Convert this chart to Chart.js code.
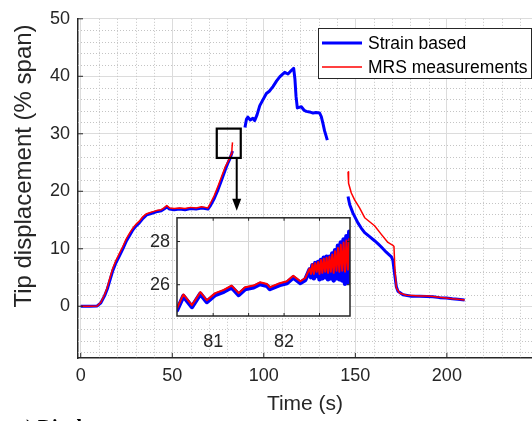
<!DOCTYPE html>
<html><head><meta charset="utf-8">
<script src="https://cdn.jsdelivr.net/npm/chart.js@4.4.1/dist/chart.umd.min.js"></script>
<style>
html,body{margin:0;padding:0;background:#fff;overflow:hidden;width:532px;height:421px;}
#wrap{position:relative;width:532px;height:421px;overflow:hidden;}
#main{position:absolute;left:0;top:0;width:532px;height:421px;}
#inset{position:absolute;left:100px;top:200px;width:260px;height:160px;}
#cap{position:absolute;left:16px;top:417px;font:bold 20px/20px "Liberation Serif",serif;color:#000;white-space:nowrap;}
</style></head><body>
<div id="wrap">
<canvas id="main" width="532" height="421"></canvas>
<canvas id="inset" width="260" height="160"></canvas>
<div id="cap">a) Displacement</div>
</div>
<script>
// ---- data ----
const seriesNames = ['Strain based', 'MRS measurements'];
const blueTime = [0,5,9,11,13,14.5,16,17.5,19,21,23,25,27,28.5,30,32,34,36,38,40,42,44,45.5,47,48.5,51,54,57,60,63,66,68,69.5,71,73,75,77,79,80.5,81.5,82.4,82.9,
  86,
  89.7,90.5,91.3,92.6,94.0,95.0,96.3,97.8,99.5,101.4,103,105,107,108.7,110,111.4,113.2,115,116.3,117.0,117.6,118.3,120.5,122,123.2,125,126.9,128.5,130.5,131.4,132.3,133.2,134.7,
  140,
  146,146.9,148.7,151.4,153.2,155.1,157.8,160.5,162.3,164.2,166.9,169.7,170.5,171.3,172.4,173.3,176,180.6,185.1,189,192.4,196,199.7,203,206,209.7];
const blueDisp = [0,0,0.05,0.6,1.8,3.0,4.6,6.2,7.4,8.7,10.0,11.4,12.5,13.3,13.9,14.5,15.3,15.9,16.1,16.3,16.5,16.6,16.9,17.3,16.9,16.8,16.9,16.8,17.0,16.9,17.1,17.0,16.9,17.6,18.8,20.3,22.0,23.8,25.0,25.7,26.5,27.0,
  null,
  31.1,32.5,32.9,32.4,32.7,32.3,33.3,34.9,35.9,37.0,37.4,38.2,39.2,39.9,40.3,40.7,40.4,41.0,41.4,39.5,36.5,34.5,34.7,34.1,33.9,33.8,33.6,33.7,33.6,33.0,31.8,30.5,28.9,
  null,
  19.1,17.7,16.2,14.5,13.6,12.8,12.1,11.4,10.9,10.3,9.4,8.6,8.0,6.0,3.4,2.6,2.0,1.75,1.75,1.7,1.65,1.5,1.45,1.3,1.2,1.1];
const redTime = [0,5,9,11,13,14.5,16,17.5,19,21,23,25,27,28.5,30,32,34,36,38,40,42,44,45.5,47,48.5,51,54,57,60,63,66,68,69.5,71,73,75,77,79,80.5,81.5,82.2,82.6,82.9,
  86,
  146,146.3,147.8,149.6,152.3,155.1,157.8,160.5,164.2,167.8,170.5,171.1,171.6,172.4,174.2,177.9,181,185.1,189,192.4,196,199.7,203,206,209.7];
const redDisp = [0,0,0.05,0.7,2.0,3.3,5.0,6.6,7.8,9.1,10.4,11.8,12.9,13.6,14.2,14.8,15.6,16.1,16.3,16.5,16.7,16.8,17.1,17.5,17.1,17.0,17.1,17.0,17.2,17.1,17.3,17.2,17.1,18.0,19.3,20.9,22.6,24.3,25.2,25.9,26.5,27.4,28.5,
  null,
  23.4,21.4,19.7,18.5,17.1,15.4,14.7,14.0,12.5,11.1,10.6,10.4,6.5,3.2,2.3,1.9,1.85,1.8,1.8,1.7,1.55,1.45,1.3,1.2,1.1];
const xTicks = [0,50,100,150,200];
const yTicks = [0,10,20,30,40,50];

// inset (zoom of 80.5 – 82.9 s)
const insetTime = [80.49,80.58,80.70,80.82,80.91,81.03,81.15,81.26,81.36,81.45,81.57,81.66,81.76,81.80,81.94,82.04,82.13,82.23,82.30,
  82.36,82.38,82.40,82.42,82.44,82.46,82.48,82.50,82.52,82.54,82.56,82.58,82.60,82.62,82.64,82.66,82.68,82.70,82.72,82.74,82.76,82.78,82.80,82.82,82.84,82.86,82.88,82.90,82.92];
const insetBlue = [24.82,25.47,24.97,25.58,25.20,25.53,25.68,25.88,25.53,25.80,25.88,26.03,25.95,25.80,25.99,26.08,26.33,26.08,26.23,
  26.70,26.35,26.90,26.30,27.00,26.40,27.05,26.25,27.15,26.30,27.25,26.35,27.30,26.25,27.30,26.30,27.45,26.20,27.60,26.30,27.80,26.25,27.95,26.20,28.10,26.05,28.25,26.10,28.45];
const insetRed = [24.90,25.55,25.05,25.66,25.28,25.61,25.76,25.96,25.61,25.88,25.96,26.11,26.03,25.88,26.07,26.16,26.41,26.16,26.31,
  26.75,26.50,26.95,26.50,27.00,26.60,27.05,26.50,27.15,26.55,27.20,26.60,27.25,26.55,27.30,26.60,27.40,26.55,27.55,26.65,27.70,26.60,27.85,26.65,27.95,26.60,28.05,26.70,28.15];
const insetXTicks = [81,81.5,82,82.5];
const insetXLabels = ['81','','82',''];
const insetYTicks = [26,28];

// zoom marker (data coordinates) and arrow
const zoomBoxT = [74.3, 87.4];
const zoomBoxD = [25.8, 30.9];
const arrowT = 85.2;
const arrowD = [25.8, 16.6];

// ---- drawing ----
Chart.defaults.font.family = "'Liberation Sans', Arial, sans-serif";
Chart.defaults.color = '#262626';
const pts = (t, v) => t.map((x, i) => ({x: x, y: v[i]}));
const AX = '#262626';

const minorGrid = {
  id: 'minorGrid',
  beforeDatasetsDraw(chart) {
    const {ctx, chartArea: a, scales: {x, y}} = chart;
    ctx.save();
    ctx.strokeStyle = '#c4c4c4';
    ctx.lineWidth = 1;
    ctx.setLineDash([1, 2]);
    for (let t = 10; t < x.max; t += 10) {
      if (t % 50 === 0) continue;
      const px = Math.round(x.getPixelForValue(t)) + 0.5;
      ctx.beginPath(); ctx.moveTo(px, a.top); ctx.lineTo(px, a.bottom); ctx.stroke();
    }
    for (let v = -8; v < y.max; v += 2) {
      if (v % 10 === 0) continue;
      const py = Math.round(y.getPixelForValue(v)) + 0.5;
      ctx.beginPath(); ctx.moveTo(a.left, py); ctx.lineTo(a.right, py); ctx.stroke();
    }
    ctx.restore();
  }
};

const mainDecor = {
  id: 'mainDecor',
  afterDatasetsDraw(chart) {
    const {ctx, chartArea: a, scales: {x, y}} = chart;
    ctx.save();
    ctx.strokeStyle = AX; ctx.lineWidth = 1;
    xTicks.forEach(v => { const px = x.getPixelForValue(v); ctx.beginPath(); ctx.moveTo(px, a.bottom); ctx.lineTo(px, a.bottom - 5); ctx.stroke(); });
    yTicks.forEach(v => { const py = y.getPixelForValue(v); ctx.beginPath(); ctx.moveTo(a.left, py); ctx.lineTo(a.left + 5, py); ctx.stroke(); });
    ctx.strokeStyle = '#000'; ctx.lineWidth = 2.2;
    const x0 = x.getPixelForValue(zoomBoxT[0]), x1 = x.getPixelForValue(zoomBoxT[1]);
    const y0 = y.getPixelForValue(zoomBoxD[1]), y1 = y.getPixelForValue(zoomBoxD[0]);
    ctx.strokeRect(x0, y0, x1 - x0, y1 - y0);
    const ax = x.getPixelForValue(arrowT), ay0 = y.getPixelForValue(arrowD[0]), ay1 = y.getPixelForValue(arrowD[1]);
    ctx.lineWidth = 2;
    ctx.beginPath(); ctx.moveTo(ax, ay0); ctx.lineTo(ax, ay1 - 8); ctx.stroke();
    ctx.fillStyle = '#000';
    ctx.beginPath(); ctx.moveTo(ax, ay1); ctx.lineTo(ax - 4.5, ay1 - 12); ctx.lineTo(ax + 4.5, ay1 - 12); ctx.closePath(); ctx.fill();
    ctx.restore();
  },
  afterDraw(chart) {
    const {ctx} = chart;
    ctx.save();
    ctx.translate(24, 166);
    ctx.rotate(-Math.PI / 2);
    ctx.fillStyle = AX;
    ctx.font = "24px 'Liberation Sans', Arial, sans-serif";
    ctx.textAlign = 'center'; ctx.textBaseline = 'middle';
    ctx.fillText('Tip displacement (% span)', 0, 0);
    ctx.restore();
    ctx.save();
    const bx = 318.5, by = 28.5, bw = 213, bh = 50;
    ctx.fillStyle = '#fff'; ctx.fillRect(bx, by, bw, bh);
    ctx.strokeStyle = AX; ctx.lineWidth = 1; ctx.strokeRect(bx, by, bw, bh);
    ctx.font = "17.5px 'Liberation Sans', Arial, sans-serif";
    ctx.textBaseline = 'middle'; ctx.textAlign = 'left';
    chart.data.datasets.forEach((ds, i) => {
      const ly = 43 + i * 24;
      ctx.strokeStyle = ds.borderColor; ctx.lineWidth = ds.borderWidth;
      ctx.beginPath(); ctx.moveTo(322, ly); ctx.lineTo(362, ly); ctx.stroke();
      ctx.fillStyle = '#000';
      ctx.fillText(ds.label, 368, ly + 1);
    });
    ctx.restore();
  }
};

new Chart(document.getElementById('main'), {
  type: 'line',
  data: {datasets: [
    {label: seriesNames[0], data: pts(blueTime, blueDisp), borderColor: '#0000ff', borderWidth: 3, borderJoinStyle: 'round', pointRadius: 0, tension: 0, spanGaps: false, order: 2},
    {label: seriesNames[1], data: pts(redTime, redDisp), borderColor: '#ff0000', borderWidth: 1.5, borderJoinStyle: 'round', pointRadius: 0, tension: 0, spanGaps: false, order: 1}
  ]},
  options: {
    responsive: false, animation: false, devicePixelRatio: 1,
    layout: {padding: {top: 12, right: 0, bottom: 0, left: 0}},
    plugins: {legend: {display: false}, tooltip: {enabled: false}},
    scales: {
      x: {type: 'linear', min: -1.5, max: 246.5,
        afterBuildTicks: s => { s.ticks = xTicks.map(v => ({value: v})); },
        afterFit: s => { s.height = 63; },
        grid: {color: '#dcdcdc', lineWidth: 1, drawTicks: false},
        border: {color: AX, width: 1.5},
        ticks: {padding: 7, autoSkip: false, maxRotation: 0, color: AX, font: {size: 18}},
        title: {display: true, text: 'Time (s)', color: AX, font: {size: 21}, padding: {top: 0, bottom: 4}}},
      y: {type: 'linear', min: -9, max: 50,
        afterBuildTicks: s => { s.ticks = yTicks.map(v => ({value: v})); },
        afterFit: s => { s.width = 78; },
        grid: {color: '#dcdcdc', lineWidth: 1, drawTicks: false},
        border: {color: AX, width: 1.5},
        ticks: {padding: 8, color: AX, font: {size: 18}}}
    }
  },
  plugins: [minorGrid, mainDecor]
});

const insetDecor = {
  id: 'insetDecor',
  beforeDraw(chart) {
    const {ctx, chartArea: a} = chart;
    ctx.save(); ctx.fillStyle = '#fff'; ctx.fillRect(a.left, a.top, a.right - a.left, a.bottom - a.top); ctx.restore();
  },
  afterDraw(chart) {
    const {ctx, chartArea: a, scales: {x, y}} = chart;
    ctx.save();
    ctx.strokeStyle = AX; ctx.lineWidth = 1;
    insetXTicks.forEach(v => { const px = x.getPixelForValue(v); ctx.beginPath(); ctx.moveTo(px, a.bottom); ctx.lineTo(px, a.bottom - 3); ctx.moveTo(px, a.top); ctx.lineTo(px, a.top + 3); ctx.stroke(); });
    insetYTicks.forEach(v => { const py = y.getPixelForValue(v); ctx.beginPath(); ctx.moveTo(a.left, py); ctx.lineTo(a.left + 3, py); ctx.moveTo(a.right, py); ctx.lineTo(a.right - 3, py); ctx.stroke(); });
    ctx.lineWidth = 1.5;
    ctx.strokeRect(a.left, a.top, a.right - a.left, a.bottom - a.top);
    ctx.restore();
  }
};

new Chart(document.getElementById('inset'), {
  type: 'line',
  data: {datasets: [
    {label: seriesNames[0], data: pts(insetTime, insetBlue), borderColor: '#0000ff', borderWidth: 4.5, borderJoinStyle: 'round', borderCapStyle: 'round', pointRadius: 0, tension: 0, order: 2, clip: 0},
    {label: seriesNames[1], data: pts(insetTime, insetRed), borderColor: '#ff0000', borderWidth: 2, borderJoinStyle: 'round', pointRadius: 0, tension: 0, order: 1, clip: 0}
  ]},
  options: {
    responsive: false, animation: false, devicePixelRatio: 1,
    layout: {padding: {top: 16, right: 10, bottom: 0, left: 0}},
    plugins: {legend: {display: false}, tooltip: {enabled: false}},
    scales: {
      x: {type: 'linear', min: 80.49, max: 82.93,
        afterBuildTicks: s => { s.ticks = insetXTicks.map(v => ({value: v})); },
        afterFit: s => { s.height = 44; },
        grid: {color: '#d6d6d6', drawTicks: false},
        border: {display: false},
        ticks: {padding: 15, autoSkip: false, maxRotation: 0, color: AX, font: {size: 18},
          callback: (v, i) => insetXLabels[i]}},
      y: {type: 'linear', min: 24.55, max: 29.1,
        afterBuildTicks: s => { s.ticks = insetYTicks.map(v => ({value: v})); },
        afterFit: s => { s.width = 77; },
        grid: {color: '#d6d6d6', drawTicks: false},
        border: {display: false},
        ticks: {padding: 7, color: AX, font: {size: 18}}}
    }
  },
  plugins: [insetDecor]
});
</script>
</body></html>
